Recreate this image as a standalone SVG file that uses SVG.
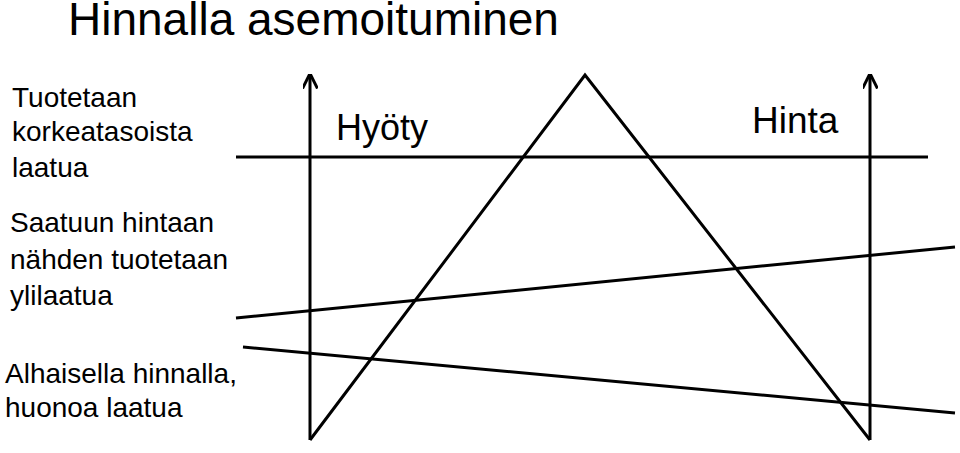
<svg xmlns="http://www.w3.org/2000/svg" width="960" height="453" viewBox="0 0 960 453">
<style>
text{font-family:"Liberation Sans",Arial,sans-serif;fill:#000}
.l{stroke:#000;stroke-width:3;fill:none}
.s{font-size:28px}
</style>
<defs><marker id="a" viewBox="0 0 10 10" refX="9" refY="5" markerWidth="5" markerHeight="5" orient="auto"><path d="M0,0 L10,5 L0,10" fill="none" stroke="#000" stroke-width="2"/></marker></defs>
<rect width="960" height="453" fill="#fff"/>
<g id="connectors">
<line class="l" x1="310" y1="440" x2="310" y2="75" marker-end="url(#a)"/>
<line class="l" x1="870" y1="440" x2="870" y2="75" marker-end="url(#a)"/>
<polyline class="l" points="310,440 585,75 870,440"/>
<line class="l" x1="236" y1="157" x2="928" y2="157"/>
<line class="l" x1="236" y1="318" x2="955" y2="247"/>
<line class="l" x1="243" y1="347" x2="955" y2="413"/>
</g>
<g id="title"><text x="68" y="35" font-size="46">Hinnalla asemoituminen</text></g>
<g id="n1"><text class="s" x="12" y="107">Tuotetaan</text><text class="s" x="12" y="141">korkeatasoista</text><text class="s" x="12" y="177">laatua</text></g>
<g id="n2"><text class="s" x="10" y="232">Saatuun hintaan</text><text class="s" x="10" y="269">nähden tuotetaan</text><text class="s" x="10" y="305">ylilaatua</text></g>
<g id="n3"><text class="s" x="5" y="383">Alhaisella hinnalla,</text><text class="s" x="5" y="417">huonoa laatua</text></g>
<g id="hy"><text x="336" y="140" font-size="36">Hyöty</text></g>
<g id="hi"><text x="752" y="133" font-size="37">Hinta</text></g>
</svg>
